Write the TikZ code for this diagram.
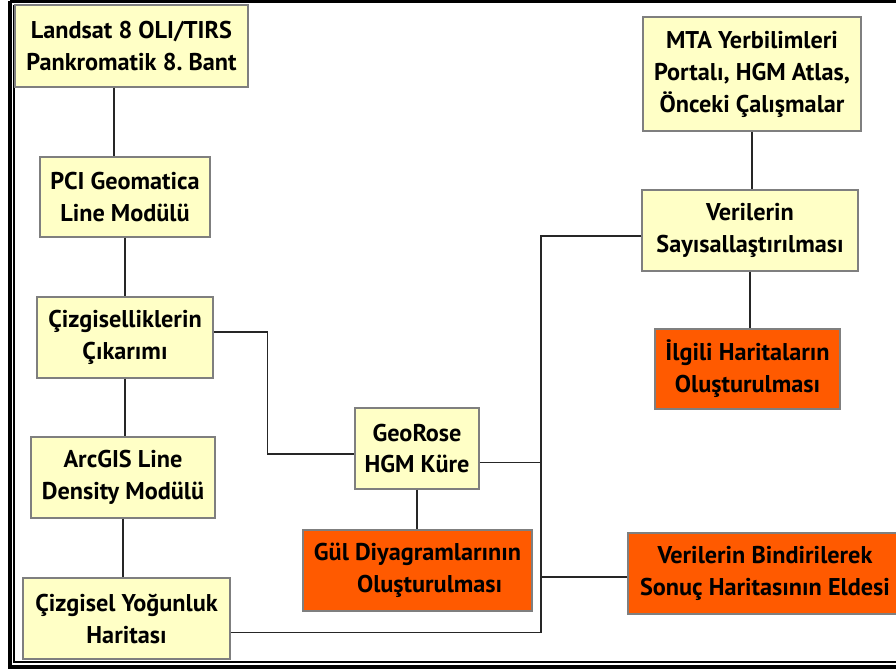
\documentclass[tikz,border=0pt]{standalone}
\usepackage{fontspec}
\setmainfont{PT Sans}
\usepackage{tikz}
\usetikzlibrary{positioning}
\usepackage{xcolor}
\definecolor{boxyellow}{HTML}{FFFFC6}
\definecolor{boxorange}{HTML}{FF5A00}
\definecolor{boxline}{HTML}{7F7F7F}
\frenchspacing

\begin{document}
\begin{tikzpicture}[x=0.02cm, y=-0.02cm,
  box/.style={rectangle, draw=boxline, line width=0.8pt, align=center,
              fill=boxyellow, inner sep=2pt, minimum height=1.62cm,
              font=\fontsize{13.8}{18.2}\selectfont\bfseries},
  obox/.style={box, fill=boxorange},
  link/.style={line width=0.9pt, draw=black!85}
]
\useasboundingbox (0,0) rectangle (896,669);

% frame
\draw[line width=2pt] (10,1) -- (10,667) -- (900,667);
\draw[line width=2pt] (10,1) -- (900,1);
\draw[line width=0.6pt] (14,5) -- (14,662) -- (900,662);

% left column
\node[box, minimum width=4.66cm, minimum height=1.64cm] (land) at (131.5,46)
  {Landsat 8 OLI/TIRS\\Pankromatik 8. Bant};
\node[box, minimum width=3.4cm, minimum height=1.6cm] (pci) at (125,197)
  {PCI Geomatica\\Line Modülü};
\node[box, minimum width=3.52cm] (cizg) at (125,337.5)
  {Çizgiselliklerin\\Çıkarımı};
\node[box, minimum width=3.68cm] (arc) at (123,477.5)
  {ArcGIS Line\\Density Modülü};
\node[box, minimum width=4.14cm] (yog) at (126.5,618.5)
  {Çizgisel Yoğunluk\\Haritası};

% middle
\node[box, minimum width=2.48cm] (geo) at (417,448.5)
  {GeoRose\\HGM Küre};
\node[obox, minimum width=4.58cm] (gul) at (417.5,570.5)
  {Gül Diyagramlarının\\\hspace*{1em}Oluşturulması};

% right column
\node[box, minimum width=4.36cm, minimum height=2.28cm] (mta) at (752,74)
  {MTA Yerbilimleri\\Portalı, HGM Atlas,\\Önceki Çalışmalar};
\node[box, minimum width=4.32cm] (say) at (750,230.5)
  {Verilerin\\Sayısallaştırılması};
\node[obox, minimum width=3.7cm, minimum height=1.6cm] (ilg) at (747.5,369)
  {İlgili Haritaların\\Oluşturulması};
\node[obox, minimum width=5.48cm] (bind) at (765,573.5)
  {Verilerin Bindirilerek\\Sonuç Haritasının Eldesi};

\coordinate (bus) at (541,0);

\draw[link] ([xshift=-10pt]land.south) -- ([xshift=-10pt]land.south |- pci.north);
\draw[link] (pci.south) -- (pci.south |- cizg.north);
\draw[link] (cizg.south) -- (cizg.south |- arc.north);
\draw[link] (arc.south) -- (arc.south |- yog.north);
\draw[link] ([yshift=3pt]cizg.east) -- ++(54,0) |- ([yshift=-3pt]geo.west);
\draw[link] (geo.south) -- (geo.south |- gul.north);
\draw[link] ([yshift=-8pt]geo.east) -- ([yshift=-8pt]geo.east -| bus);
\draw[link] ([yshift=-3pt]say.west) -| ([yshift=-8pt]yog.east -| bus);
\draw[link] ([yshift=-8pt]yog.east) -- ([yshift=-8pt]yog.east -| bus);
\draw[link] ([yshift=-2pt]bind.west) -- ([yshift=-2pt]bind.west -| bus);
\draw[link] (mta.south) -- (mta.south |- say.north);
\draw[link] (say.south) -- (say.south |- ilg.north);

\end{tikzpicture}
\end{document}
